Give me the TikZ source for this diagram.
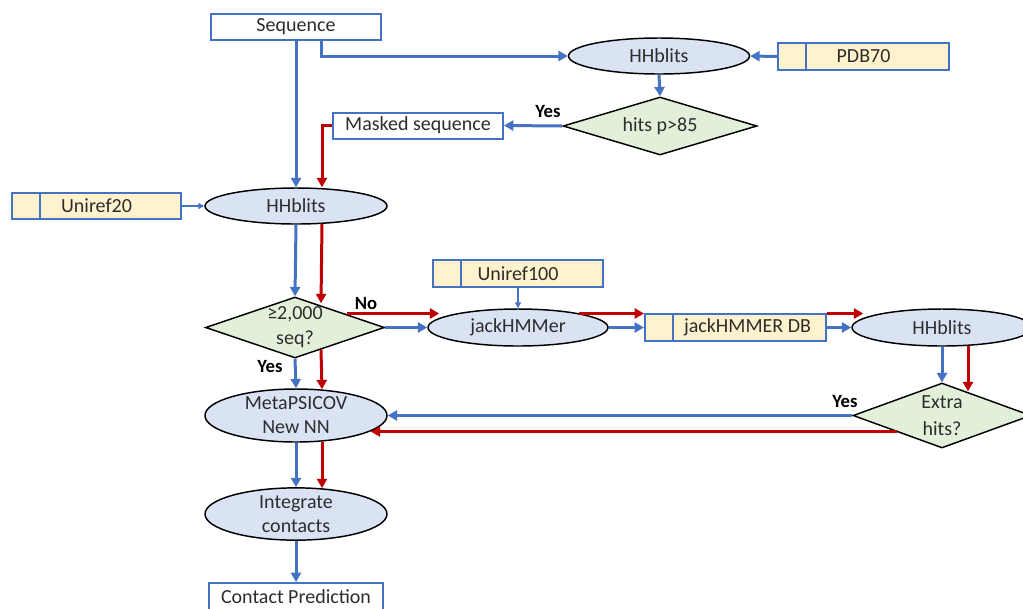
\documentclass[tikz,border=0pt]{standalone}
\usepackage{fontspec}
\setmainfont{Carlito}
\usepackage{xcolor}
\usepackage{tikz}
\usetikzlibrary{shapes.geometric}
\usetikzlibrary{arrows.meta}
\usetikzlibrary{calc}

\definecolor{lineblue}{RGB}{68,114,196}
\definecolor{linered}{RGB}{192,0,0}
\definecolor{procfill}{RGB}{218,227,243}
\definecolor{testfill}{RGB}{226,240,217}
\definecolor{dbfill}{RGB}{255,242,204}
\definecolor{txtgray}{RGB}{45,45,45}

\tikzset{
  every node/.style={font=\fontsize{15}{18}\selectfont, text=txtgray},
  iobox/.style={draw=lineblue, fill=white, line width=1.5pt, minimum width=127.5pt, minimum height=19.5pt, inner sep=0pt},
  dbbox/.style={iobox, fill=dbfill, path picture={\draw[lineblue, line width=1.5pt] ([xshift=21pt]path picture bounding box.north west) -- ([xshift=21pt]path picture bounding box.south west);}},
  procnode/.style={ellipse, draw=black, fill=procfill, line width=1.1pt, minimum width=136.5pt, minimum height=27pt, inner sep=0pt, align=center},
  testnode/.style={diamond, draw=black, fill=testfill, line width=1.1pt, minimum width=134.25pt, minimum height=45.75pt, aspect=2.93, inner sep=0pt, align=center},
  blueflow/.style={draw=lineblue, line width=2.25pt, -{Triangle[length=7pt,width=7.5pt]}},
  redflow/.style={draw=linered, line width=2.25pt, -{Triangle[length=7pt,width=7.5pt]}},
  thinflow/.style={draw=lineblue, line width=1pt, -{Triangle[length=4.5pt,width=4.5pt]}},
  answer/.style={font=\fontsize{14}{16}\selectfont\bfseries, text=black}
}

\begin{document}
\begin{tikzpicture}[x=0.75pt,y=0.75pt,yscale=-1,xscale=1]
\useasboundingbox (0,0) rectangle (1023,608);

% Text Node
\node [iobox] (seq) at (296,27) {Sequence};
% Text Node
\node [procnode, minimum width=135.75pt] (hh1) at (659,56) {HHblits};
% Text Node
\node [dbbox, minimum width=128.25pt, minimum height=20.25pt] (pdb) at (863.5,56.5) {PDB70};
% Text Node
\node [testnode, minimum width=145.5pt, minimum height=43.5pt, aspect=3.34] (hits) at (660,126) {hits p>85};
% Text Node
\node [iobox] (masked) at (418,125.5) {Masked sequence};
% Text Node
\node [procnode] (hh2) at (296,206) {HHblits};
% Text Node
\node [dbbox, minimum width=126.75pt] (u20) at (96.5,206) {Uniref20};
% Text Node
\node [testnode, font=\fontsize{15}{18.75}\selectfont] (seqtest) at (295,327.5) {≥2,000\\seq?};
% Text Node
\node [dbbox, minimum width=127.5pt, minimum height=20.25pt] (u100) at (518,273.5) {Uniref100};
% Text Node
\node [procnode, minimum width=135pt, minimum height=27.75pt] (jack) at (518,327.5) {jackHMMer};
% Text Node
\node [dbbox, minimum width=135.75pt, minimum height=20.25pt] (jdb) at (735.5,327.5) {\hspace*{18pt}jackHMMER DB};
% Text Node
\node [procnode, minimum width=135pt, minimum height=27.75pt] (hh3) at (942,327.5) {HHblits};
% Text Node
\node [testnode, minimum width=133.5pt, minimum height=48.75pt, aspect=2.74, font=\fontsize{15}{20}\selectfont] (extra) at (942,415.5) {Extra\\hits?};
% Text Node
\node [procnode, minimum height=39.75pt] (meta) at (296,415.5) {MetaPSICOV\\New NN};
% Text Node
\node [procnode, minimum height=39pt] (integ) at (296,514) {Integrate\\contacts};
% Text Node
\node [iobox, minimum width=131pt, minimum height=21pt] (pred) at (296,597) {Contact Prediction};

% Text Node
\node [answer] (yeshits) at (548,112) {Yes};
% Text Node
\node [answer] (noseq) at (366,304) {No};
% Text Node
\node [answer] (yesseq) at (270,367) {Yes};
% Text Node
\node [answer] (yesextra) at (845,402) {Yes};

%Straight Lines
\draw [blueflow] (seq.south) -- (hh2.north);
\draw [blueflow] ($(seq.south)+(25,0)$) |- (hh1.west);
\draw [blueflow] (pdb.west) -- (hh1.east);
\draw [blueflow] (hh1.south) -- (hits.north);
\draw [blueflow] (hits.west) -- (masked.east);
\draw [redflow] (masked.west) -| ($(hh2.north)+(26,0)$);

%Straight Lines
\draw [thinflow] (u20.east) -- (hh2.west);
\draw [blueflow] (hh2.south) -- (seqtest.north);
\draw [redflow] ($(hh2.south)+(26,-1)$) -- ($(seqtest.north)+(26,7)$);

%Straight Lines
\draw [blueflow] (seqtest.east) -- (jack.west);
\draw [redflow] ($(seqtest.east)+(-38.5,-14)$) -- ($(jack.west)+(12,-14)$);
\draw [thinflow] (u100.south) -- (jack.north);
\draw [blueflow] (jack.east) -- (jdb.west);
\draw [redflow] ($(jack.east)+(-30,-14)$) -- ($(jdb.west)+(0,-14)$);
\draw [blueflow] (jdb.east) -- (hh3.west);
\draw [redflow] ($(jdb.east)+(0,-14)$) -- ($(hh3.west)+(12,-14)$);

%Straight Lines
\draw [blueflow] (hh3.south) -- (extra.north);
\draw [redflow] ($(hh3.south)+(26,-1)$) -- ($(extra.north)+(26,9)$);
\draw [blueflow] (extra.west) -- (meta.east);
\draw [redflow] ($(extra.west)+(45,16)$) -- ($(meta.east)+(-17,16)$);

%Straight Lines
\draw [blueflow] (seqtest.south) -- (meta.north);
\draw [redflow] ($(seqtest.south)+(26,-9)$) -- ($(meta.north)+(26,1)$);
\draw [blueflow] (meta.south) -- (integ.north);
\draw [redflow] ($(meta.south)+(26,-1)$) -- ($(integ.north)+(26,1)$);
\draw [blueflow] (integ.south) -- (pred.north);

\end{tikzpicture}
\end{document}
